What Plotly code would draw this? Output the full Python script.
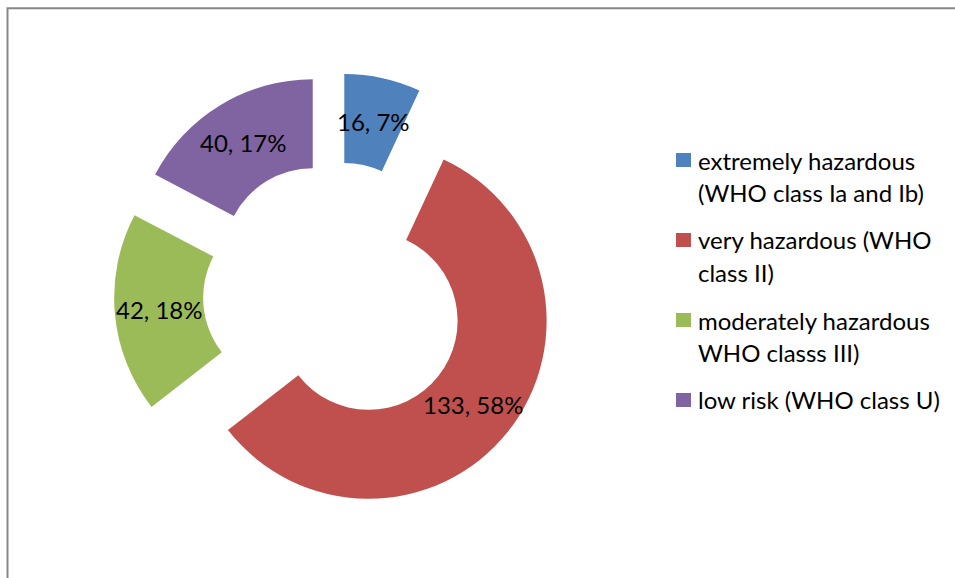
import math
import plotly.graph_objects as go

# Pesticide products by WHO hazard class
label_lines = [
    ["extremely hazardous", "(WHO class Ia and Ib)"],
    ["very hazardous (WHO", "class II)"],
    ["moderately hazardous", "WHO classs III)"],
    ["low risk (WHO class U)"],
]
counts = [16, 133, 42, 40]
colors = ["#4F81BD", "#C0504D", "#9BBB59", "#8064A2"]

W, H = 955, 578
FONT = "Lato"

# ring geometry (pixels)
cx, cy = 335.0, 294.0
r_out = 178.0
hole = 0.5
pull = 0.2416
half_box = r_out * (1 + pull)

labels = [" ".join(l) for l in label_lines]

fig = go.Figure()
fig.add_trace(go.Pie(
    labels=labels,
    values=counts,
    sort=False,
    direction="clockwise",
    rotation=0,
    hole=hole,
    pull=[pull] * len(counts),
    marker=dict(colors=colors, line=dict(width=0)),
    textinfo="none",
    hoverinfo="label+value+percent",
    showlegend=False,
    domain=dict(
        x=[(cx - half_box) / W, (cx + half_box) / W],
        y=[1 - (cy + half_box) / H, 1 - (cy - half_box) / H],
    ),
))

# data labels "value, percent" at the middle of each (pulled) ring segment
total = sum(counts)
start = 0.0
r_mid = r_out * (1 + hole) / 2
annotations = []
for v in counts:
    span = 360.0 * v / total
    mid = math.radians(start + span / 2)
    dx, dy = math.sin(mid), -math.cos(mid)
    d = pull * r_out + r_mid
    px, py = cx + d * dx, cy + d * dy
    annotations.append(dict(
        x=px / W, y=1 - py / H, xref="paper", yref="paper",
        text=f"{v}, {round(100 * v / total)}%",
        showarrow=False, xanchor="center", yanchor="middle",
        font=dict(family=FONT, size=24, color="#000000"),
    ))
    start += span

# legend: colour swatch plus wrapped text
shapes = []
leg_x, leg_y0, item_gap, line_h = 676, 160, 80, 32
for i, (lines, col) in enumerate(zip(label_lines, colors)):
    yc = leg_y0 + i * item_gap
    shapes.append(dict(
        type="rect", xref="paper", yref="paper",
        x0=leg_x / W, x1=(leg_x + 15) / W,
        y0=1 - (yc + 7) / H, y1=1 - (yc - 7) / H,
        fillcolor=col, line=dict(width=0),
    ))
    for j, txt in enumerate(lines):
        annotations.append(dict(
            x=(leg_x + 20) / W, y=1 - (yc + j * line_h) / H,
            xref="paper", yref="paper", text=txt, showarrow=False,
            xanchor="left", yanchor="middle",
            font=dict(family=FONT, size=24, color="#000000"),
        ))

# chart frame
shapes.append(dict(
    type="rect", xref="paper", yref="paper",
    x0=7.5 / W, x1=1.02, y0=-0.05, y1=1 - 8.3 / H,
    line=dict(color="#878787", width=2), fillcolor="rgba(0,0,0,0)",
))

fig.update_layout(
    width=W, height=H,
    margin=dict(l=0, r=0, t=0, b=0),
    paper_bgcolor="#FFFFFF",
    plot_bgcolor="#FFFFFF",
    annotations=annotations,
    shapes=shapes,
)

fig.write_html("out.html")
